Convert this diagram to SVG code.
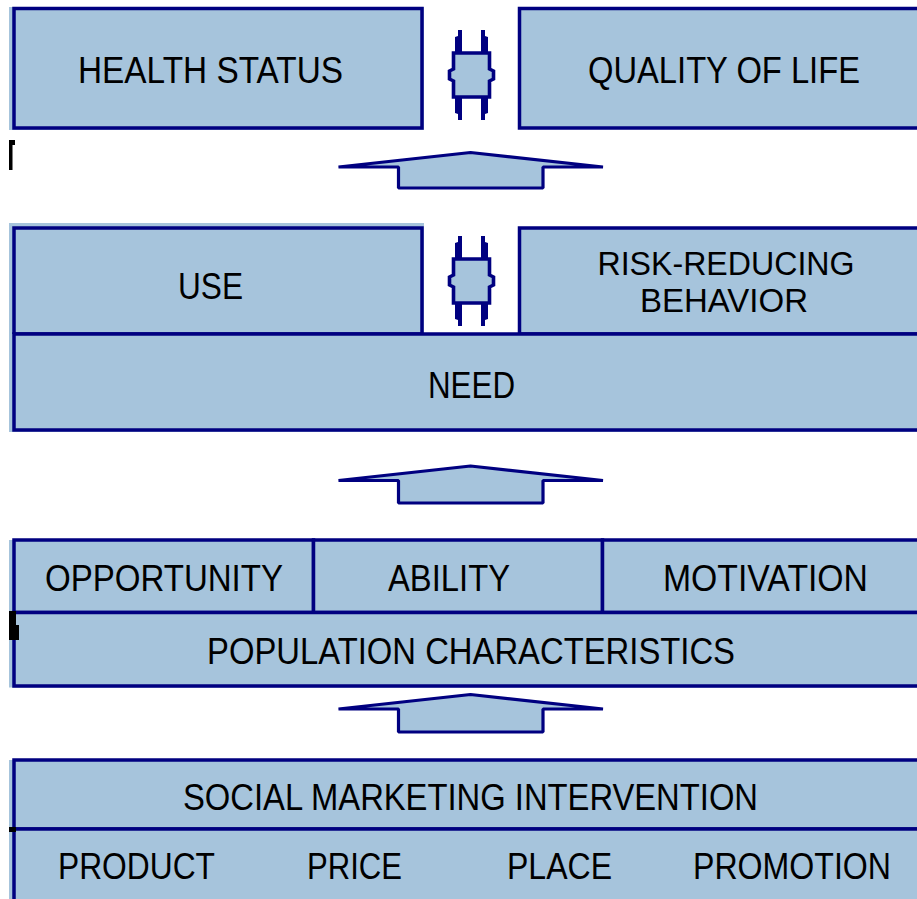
<svg xmlns="http://www.w3.org/2000/svg" xmlns:xlink="http://www.w3.org/1999/xlink" width="917" height="899" viewBox="0 0 917 899">
  <style>
    .box { fill: #a6c4dc; stroke: #000080; stroke-width: 3.5; }
    .pad { fill: #a6c4dc; }
    .lbl { font-family: "Liberation Sans", Arial, sans-serif; font-size: 36px; fill: #000; text-anchor: middle; }
    .lbl2 { font-size: 33px; }
    .arrow { fill: #a6c4dc; stroke: #000080; stroke-width: 3.2; stroke-linejoin: bevel; }
    .body { fill: #a6c4dc; stroke: #000080; stroke-width: 3.6; stroke-linejoin: miter; }
    .prong { fill: #000080; }
    .mark { fill: #000; }
  </style>
  <defs>
    <!-- narrow vertical two-way arrow, centred on 0,0 -->
    <g id="twoway">
      <path class="body" d="M-18,-22 H18 V-6 L22,-4 V4 L18,6 V22 H-18 V6 L-22,4 V-4 L-18,-6 Z"/>
      <polygon class="prong" points="-16.5,-22 -16.5,-38 -13.5,-39 -13.5,-45 -9.5,-45 -9.5,-22"/>
      <polygon class="prong" points="16.5,-22 16.5,-38 13.5,-39 13.5,-45 9.5,-45 9.5,-22"/>
      <polygon class="prong" points="-16.5,22 -16.5,38 -13.5,39 -13.5,45 -9.5,45 -9.5,22"/>
      <polygon class="prong" points="16.5,22 16.5,38 13.5,39 13.5,45 9.5,45 9.5,22"/>
    </g>
  </defs>

  <rect x="0" y="0" width="917" height="899" fill="#fff"/>

  <!-- top tier: outcomes -->
  <g id="health-status">
    <rect class="pad" x="9" y="7" width="415" height="123"/>
    <rect class="box" x="14" y="8.5" width="408" height="119.5"/>
    <text class="lbl" x="210.5" y="83" textLength="265" lengthAdjust="spacingAndGlyphs">HEALTH STATUS</text>
  </g>
  <g id="quality-of-life">
    <rect class="box" x="519.5" y="8.5" width="420" height="119.5"/>
    <text class="lbl" x="724" y="83" textLength="272" lengthAdjust="spacingAndGlyphs">QUALITY OF LIFE</text>
  </g>

  <!-- second tier: behaviour and need -->
  <g id="use">
    <rect class="pad" x="9" y="223" width="415" height="111"/>
    <rect class="box" x="14" y="228" width="408" height="106"/>
    <text class="lbl" x="210.5" y="299" textLength="65" lengthAdjust="spacingAndGlyphs">USE</text>
  </g>
  <g id="risk-reducing-behavior">
    <rect class="box" x="519.5" y="228" width="420" height="106"/>
    <text class="lbl lbl2" x="726" y="275" textLength="257" lengthAdjust="spacingAndGlyphs">RISK-REDUCING</text>
    <text class="lbl lbl2" x="724" y="312" textLength="168" lengthAdjust="spacingAndGlyphs">BEHAVIOR</text>
  </g>
  <g id="need">
    <rect class="pad" x="9" y="334" width="920" height="98"/>
    <rect class="box" x="14" y="334" width="920" height="96"/>
    <text class="lbl" x="471.5" y="398" textLength="87" lengthAdjust="spacingAndGlyphs">NEED</text>
  </g>

  <!-- third tier: population -->
  <g id="opportunity">
    <rect class="pad" x="9" y="540" width="305" height="73"/>
    <rect class="box" x="14" y="540" width="299.5" height="72.5"/>
    <text class="lbl" x="164" y="591" textLength="238" lengthAdjust="spacingAndGlyphs">OPPORTUNITY</text>
  </g>
  <g id="ability">
    <rect class="box" x="313.5" y="540" width="289" height="72.5"/>
    <text class="lbl" x="449" y="591" textLength="122" lengthAdjust="spacingAndGlyphs">ABILITY</text>
  </g>
  <g id="motivation">
    <rect class="box" x="602.5" y="540" width="330" height="72.5"/>
    <text class="lbl" x="765.5" y="591" textLength="205" lengthAdjust="spacingAndGlyphs">MOTIVATION</text>
  </g>
  <g id="population-characteristics">
    <rect class="pad" x="9" y="612.5" width="920" height="75"/>
    <rect class="box" x="14" y="612.5" width="920" height="73.5"/>
    <text class="lbl" x="471" y="664" textLength="528" lengthAdjust="spacingAndGlyphs">POPULATION CHARACTERISTICS</text>
  </g>

  <!-- bottom tier: intervention and the four Ps -->
  <g id="social-marketing-intervention">
    <rect class="pad" x="9" y="760" width="920" height="70"/>
    <rect class="box" x="14" y="760" width="920" height="69"/>
    <text class="lbl" x="470.5" y="810" textLength="575" lengthAdjust="spacingAndGlyphs">SOCIAL MARKETING INTERVENTION</text>
  </g>
  <g id="marketing-mix">
    <rect class="pad" x="9" y="829" width="920" height="80"/>
    <rect class="box" x="14" y="829" width="920" height="80"/>
    <text class="lbl" x="136.5" y="879" textLength="157" lengthAdjust="spacingAndGlyphs">PRODUCT</text>
    <text class="lbl" x="354.5" y="879" textLength="95" lengthAdjust="spacingAndGlyphs">PRICE</text>
    <text class="lbl" x="559.5" y="879" textLength="105" lengthAdjust="spacingAndGlyphs">PLACE</text>
    <text class="lbl" x="792" y="879" textLength="198" lengthAdjust="spacingAndGlyphs">PROMOTION</text>
  </g>

  <!-- connectors -->
  <g id="connectors">
    <use xlink:href="#twoway" href="#twoway" x="471.5" y="75"/>
    <use xlink:href="#twoway" href="#twoway" x="471.5" y="281"/>
    <path class="arrow" d="M338.5,167 L470.5,152.5 L603,167 L543,167 L543,188 L398.5,188 L398.5,167 Z"/>
    <path class="arrow" d="M338.5,480.5 L470.5,466 L603,480.5 L543,480.5 L543,503 L398.5,503 L398.5,480.5 Z"/>
    <path class="arrow" d="M338.5,709 L470.5,694.5 L603,709 L543,709 L543,732 L398.5,732 L398.5,709 Z"/>
  </g>

  <!-- small marks on the left margin -->
  <rect class="mark" x="9" y="140" width="3.5" height="30"/>
  <rect class="mark" x="9" y="140" width="6" height="5"/>
  <rect class="mark" x="9" y="611" width="7" height="29"/>
  <rect class="mark" x="9" y="625" width="10" height="15"/>
  <rect class="mark" x="9" y="827" width="7" height="5"/>
</svg>
